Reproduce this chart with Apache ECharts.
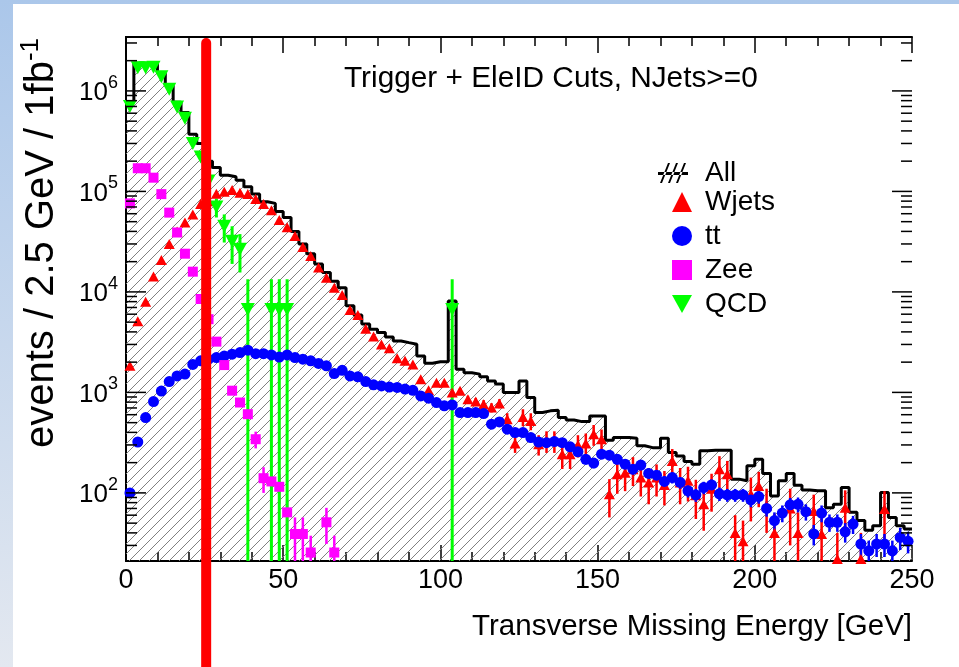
<!DOCTYPE html>
<html><head><meta charset="utf-8">
<script src="https://cdn.jsdelivr.net/npm/echarts@6/dist/echarts.min.js"></script>
<style>html,body{margin:0;padding:0;background:#fff}#c{width:959px;height:667px}</style>
</head><body><div id="c"></div>
<script>
// ---------------- data ----------------
const binWidth = 2.5;              // GeV per bin, 100 bins from 0 to 250
const xMin = 0, xMax = 250, xStep = 50;
const yMin = 21, yMax = 3.44e6;
const yDecadeLabels = [2, 3, 4, 5, 6];
const cutValue = 25.5;
const legendNames = ['All', 'Wjets', 'tt', 'Zee', 'QCD'];
const titleText = 'Trigger + EleID Cuts, NJets>=0';
const xTitle = 'Transverse Missing Energy [GeV]';

const allEvents = [
 7.8e5, 1.88e6, 1.88e6, 1.88e6, 1.5e6, 1.13e6, 7.7e5, 6.1e5, 3.7e5, 3.0e5,
 2.0e5, 1.73e5, 1.45e5, 1.4e5, 1.29e5, 1.11e5, 9.4e4, 7.9e4, 7.6e4, 6.3e4,
 5.5e4, 4.0e4, 3.0e4, 2.4e4, 1.9e4, 1.56e4, 1.28e4, 1.1e4, 7300, 5900,
 4800, 4250, 3940, 3560, 3250, 3130, 3020, 2300, 1950, 2020,
 2020, 8100, 1700, 1570, 1520, 1430, 1300, 1210, 995, 995,
 1300, 888, 630, 655, 665, 561, 532, 512, 512, 583,
 583, 334, 355, 355, 350, 294, 282, 282, 350, 252,
 233, 205, 193, 262, 266, 266, 266, 137, 132, 186,
 216, 156, 93, 132, 156, 119, 107, 105, 105, 71,
 77, 113, 64, 53, 42.6, 47, 101, 57, 47, 43.6];

const wjets = [
 1840, 5100, 8000, 14200, 20800, 30000, 40000, 49000, 59000, 75000,
 80000, 95000, 99000, 103000, 97000, 94000, 84000, 75000, 65000, 52000,
 44000, 36000, 28000, 22800, 17500, 13800, 11000, 9300, 6600, 5900,
 4300, 3600, 3000, 2750, 2190, 2060, 1900, 1350, 1050, 1250,
 1250, 995, 1040, 855, 810, 763, 706, 775, 541, 310,
 570, 520, 305, 330, 330, 243, 243, 300, 310, 384,
 342, 97, 153, 159, 172, 142, 127, 142, 120, 208,
 127, 132, 95, 77, 110, 172, 153, 40, 33, 97,
 117, 75, 40, null, 70, 40, null, 66, 39, null,
 22, 71, null, 22, null, null, 69, null, null, null];
const wjetsErr = [
 null, null, null, null, null, null, null, null, null, null,
 null, null, null, null, null, null, null, null, null, null,
 null, null, null, null, null, null, null, null, null, null,
 null, null, null, null, null, null, null, null, null, null,
 null, 60, 60, 70, 70, 75, 75, 80, 80, 60,
 110, 100, 70, 80, 80, 70, 70, 75, 80, 90,
 85, 40, 55, 55, 55, 50, 50, 50, 45, 65,
 50, 50, 40, 35, 45, 60, 55, 20, 20, 45,
 45, 35, 22, null, 40, 24, null, 30, 22, null,
 18, 35, null, 18, null, null, 35, null, null, null];

const ttbar = [
 100, 321, 561, 810, 1030, 1280, 1460, 1520, 1900, 2060,
 2140, 2220, 2300, 2400, 2490, 2630, 2430, 2430, 2360, 2250,
 2360, 2220, 2140, 2060, 1940, 1840, 1540, 1660, 1460, 1430,
 1280, 1190, 1160, 1130, 1120, 1080, 1050, 922, 875, 793,
 735, 751, 630, 630, 630, 615, 483, 508, 430, 398,
 398, 355, 321, 316, 324, 316, 287, 256, 216, 198,
 243, 237, 216, 193, 172, 189, 156, 150, 130, 142,
 127, 105, 95.5, 113, 120, 98, 95.5, 95.5, 95.5, 85,
 92, 70, 53, 63, 76, 77, 65, 39, 63, 51,
 51, 41, 49, 31, 26.5, 31, 31, 26.5, 36, 33];
const ttbarErr = [
 null, null, null, null, null, null, null, null, null, null,
 null, null, null, null, null, null, null, null, null, null,
 null, null, null, null, null, null, null, null, null, null,
 null, null, null, null, null, null, null, null, null, null,
 null, null, null, null, null, null, null, null, null, null,
 null, null, null, null, null, 30, 28, 26, 24, 22,
 26, 25, 23, 22, 20, 21, 19, 18, 17, 18,
 17, 15, 14, 16, 16, 15, 14, 14, 14, 13,
 14, 12, 11, 12, 13, 13, 12, 9, 12, 10,
 10, 9, 10, 8, 7, 8, 8, 7, 9, 8];

const zee = [
 76000, 170000, 170000, 137000, 94000, 61500, 39000, 24000, 15900, 8500,
 5350, 3200, 1870, 1040, 793, 607, 342, 140, 130, 115,
 64, 39, 39, 25.5, null, 51, 25.5, null, null, null];
const zeeErr = [
 null, null, null, null, null, null, null, null, null, null,
 null, null, null, null, null, null, 65, 40, 38, 38,
 22, 18, 18, 12, null, 20, 12, null, null, null];

const qcd = [
 7.0e5, 1.7e6, 1.7e6, 1.72e6, 1.38e6, 1.04e6, 6.9e5, 5.35e5, 3.0e5, 2.2e5,
 1.27e5, 7.0e4, 4.5e4, 3.2e4, 2.66e4, 6700, null, null, 6700, 6700,
 6700, null, null, null, null, null, null, null, null, null,
 null, null, null, null, null, null, null, null, null, null,
 null, 6700];
const qcdErr = [
 null, null, null, null, null, null, null, null, null, null,
 null, 15000, 14000, 13000, 11000, 6700, null, null, 6700, 6700,
 6700, null, null, null, null, null, null, null, null, null,
 null, null, null, null, null, null, null, null, null, null,
 null, 6700];

// ---------------- helpers ----------------
const FONT = '"Liberation Sans", Arial, Helvetica, sans-serif';
const center = i => (i + 0.5) * binWidth;
function points(vals) {
  const out = [];
  vals.forEach((v, i) => { if (v != null) out.push([center(i), v]); });
  return out;
}
function errorRows(vals, errs) {
  const out = [];
  vals.forEach((v, i) => {
    if (v != null && errs[i] != null) out.push([center(i), Math.max(v - errs[i], yMin), Math.min(v + errs[i], yMax)]);
  });
  return out;
}
function stepRows(vals) {
  const out = vals.map((v, i) => [i * binWidth, v]);
  out.push([vals.length * binWidth, vals[vals.length - 1]]);
  return out;
}
function errorSeries(name, rows, color, width) {
  return {
    type: 'custom', name: name, data: rows, z: 3, silent: true,
    encode: { x: 0, y: [1, 2] },
    renderItem(params, api) {
      const x = api.value(0);
      const p1 = api.coord([x, api.value(1)]);
      const p2 = api.coord([x, api.value(2)]);
      return { type: 'line', shape: { x1: p1[0], y1: p1[1], x2: p2[0], y2: p2[1] },
               style: { stroke: color, lineWidth: width } };
    }
  };
}

// hatch pattern for the "All" histogram
const hatch = document.createElement('canvas');
hatch.width = 10; hatch.height = 10;
const hctx = hatch.getContext('2d');
hctx.strokeStyle = '#808080'; hctx.lineWidth = 1;
hctx.beginPath();
hctx.moveTo(-1, 11); hctx.lineTo(11, -1);
hctx.moveTo(9, 11); hctx.lineTo(11, 9);
hctx.moveTo(-1, 1); hctx.lineTo(1, -1);
hctx.stroke();

// y ticks (log decades with 2..9 minor ticks)
const yTickRows = [];
for (let e = 1; e <= 6; e++) for (let m = 1; m <= 9; m++) {
  const v = m * Math.pow(10, e);
  if (v >= yMin && v <= yMax) yTickRows.push([0, v, m === 1 ? 1 : 0]);
}
const yLabelRows = yDecadeLabels.map(e => [0, Math.pow(10, e), e]);

const ALL_ICON = 'path://M0,9L30,9L30,12L0,12Z M2,20L4,20L12,0L10,0Z M10,20L12,20L20,0L18,0Z M18,20L20,20L28,0L26,0Z';

const chart = echarts.init(document.getElementById('c'), null, { renderer: 'canvas' });
chart.setOption({
  animation: false,
  grid: { left: 126, right: 47, top: 37, bottom: 106 },
  xAxis: [
    { type: 'value', min: xMin, max: xMax, interval: xStep, position: 'bottom',
      axisLine: { lineStyle: { color: '#000', width: 2 } },
      axisTick: { inside: true, length: 16, lineStyle: { color: '#000', width: 1.5 } },
      minorTick: { show: true, splitNumber: 5, length: 9, lineStyle: { color: '#000', width: 1.5 } },
      axisLabel: { fontSize: 27, color: '#000', fontFamily: FONT, margin: 6 },
      splitLine: { show: false } },
    { type: 'value', min: xMin, max: xMax, interval: xStep, position: 'top',
      axisLine: { lineStyle: { color: '#000', width: 2 } },
      axisTick: { inside: true, length: 16, lineStyle: { color: '#000', width: 1.5 } },
      minorTick: { show: true, splitNumber: 5, length: 9, lineStyle: { color: '#000', width: 1.5 } },
      axisLabel: { show: false }, splitLine: { show: false } }
  ],
  yAxis: [
    { type: 'log', logBase: 10, min: yMin, max: yMax, position: 'left',
      axisLine: { show: true, lineStyle: { color: '#000', width: 2 } },
      axisTick: { show: false }, axisLabel: { show: false }, splitLine: { show: false } },
    { type: 'log', logBase: 10, min: yMin, max: yMax, position: 'right',
      axisLine: { show: true, lineStyle: { color: '#000', width: 2 } },
      axisTick: { show: false }, axisLabel: { show: false }, splitLine: { show: false } }
  ],
  legend: [
    { data: [{ name: 'All', icon: ALL_ICON }], orient: 'vertical', left: 658, top: 159, padding: 0,
      itemWidth: 30, itemHeight: 20, selectedMode: false,
      textStyle: { fontSize: 28, color: '#000', fontFamily: FONT, lineHeight: 28, padding: [0, 0, 0, 12] } },
    { data: [{ name: 'Wjets', icon: 'triangle' }, { name: 'tt', icon: 'circle' },
             { name: 'Zee', icon: 'rect' }, { name: 'QCD', icon: 'path://M0,0L10,0L5,9Z' }],
      orient: 'vertical', left: 672, top: 188, padding: 0, itemWidth: 20, itemHeight: 20, itemGap: 6, selectedMode: false,
      textStyle: { fontSize: 28, color: '#000', fontFamily: FONT, lineHeight: 28, padding: [0, 0, 0, 8] } }
  ],
  graphic: [
    { type: 'rect', z: -10, silent: true, shape: { x: 0, y: 0, width: 959, height: 667 },
      style: { fill: new echarts.graphic.LinearGradient(0, 0, 0, 1, [
        { offset: 0, color: '#abc7ea' }, { offset: 1, color: '#e3e8f0' }]) } },
    { type: 'rect', z: -9, silent: true, shape: { x: 13, y: 4, width: 946, height: 663 }, style: { fill: '#ffffff' } },
    { type: 'text', x: 344, y: 79, style: { text: titleText, fill: '#000', font: '29.8px ' + FONT, verticalAlign: 'middle' } },
    { type: 'text', x: 912, y: 627, style: { text: xTitle, fill: '#000', font: '29.5px ' + FONT, align: 'right', verticalAlign: 'middle' } },
    { type: 'text', x: 42, y: 38, rotation: Math.PI / 2,
      style: { text: '{a|events / 2.5 GeV / 1fb}{b|-1}', align: 'right', verticalAlign: 'middle', fill: '#000',
        rich: { a: { font: '40px ' + FONT, fontSize: 40, lineHeight: 48, fill: '#000' },
                b: { font: '26px ' + FONT, fontSize: 26, lineHeight: 26, verticalAlign: 'top', fill: '#000' } } } }
  ],
  series: [
    { type: 'line', name: 'All', data: stepRows(allEvents), step: 'end', symbol: 'none', z: 2,
      itemStyle: { color: '#000' }, lineStyle: { color: '#000', width: 3 },
      areaStyle: { origin: 'start', color: { image: hatch, repeat: 'repeat' }, opacity: 1 } },
    errorSeries('WjetsErr', errorRows(wjets, wjetsErr), '#ff0000', 2.5),
    { type: 'scatter', name: 'Wjets', data: points(wjets), symbol: 'triangle', symbolSize: [11, 10], z: 4,
      itemStyle: { color: '#ff0000', opacity: 1 } },
    errorSeries('ttErr', errorRows(ttbar, ttbarErr), '#0000ff', 2.5),
    { type: 'scatter', name: 'tt', data: points(ttbar), symbol: 'circle', symbolSize: 11, z: 4,
      itemStyle: { color: '#0000ff', opacity: 1 } },
    errorSeries('ZeeErr', errorRows(zee, zeeErr), '#ff00ff', 2.5),
    { type: 'scatter', name: 'Zee', data: points(zee), symbol: 'rect', symbolSize: 10, z: 4,
      itemStyle: { color: '#ff00ff', opacity: 1 } },
    errorSeries('QCDErr', errorRows(qcd, qcdErr), '#00ff00', 3),
    { type: 'scatter', name: 'QCD', data: points(qcd), symbol: 'triangle', symbolRotate: 180, symbolSize: [14, 13], z: 4,
      itemStyle: { color: '#00ff00', opacity: 1 } },
    { type: 'custom', name: 'yTicks', data: yTickRows, z: 5, silent: true, encode: { x: 0, y: 1 },
      renderItem(params, api) {
        const v = api.value(1), major = api.value(2) === 1, len = major ? 20 : 11;
        const pl = api.coord([xMin, v]), pr = api.coord([xMax, v]);
        return { type: 'group', children: [
          { type: 'line', shape: { x1: pl[0], y1: pl[1], x2: pl[0] + len, y2: pl[1] }, style: { stroke: '#000', lineWidth: 1.5 } },
          { type: 'line', shape: { x1: pr[0] - len, y1: pr[1], x2: pr[0], y2: pr[1] }, style: { stroke: '#000', lineWidth: 1.5 } }
        ] };
      } },
    { type: 'custom', name: 'yLabels', data: yLabelRows, z: 5, silent: true, encode: { x: 0, y: 1 },
      renderItem(params, api) {
        const p = api.coord([xMin, api.value(1)]);
        return { type: 'text', x: p[0] - 8, y: p[1] + 2,
          style: { text: '{b|10}{s|' + api.value(2) + '}', align: 'right', verticalAlign: 'middle', fill: '#000',
            rich: { b: { font: '26px ' + FONT, fontSize: 26, lineHeight: 38, fill: '#000' },
                    s: { font: '18px ' + FONT, fontSize: 18, lineHeight: 18, verticalAlign: 'top', fill: '#000' } } } };
      } },
    { type: 'custom', name: 'cut', data: [[cutValue, yMax]], z: 10, silent: true, encode: { x: 0, y: 1 },
      renderItem(params, api) {
        const p = api.coord([api.value(0), api.value(1)]);
        return { type: 'line', shape: { x1: p[0], y1: p[1] + 6, x2: p[0], y2: api.getHeight() + 20 },
                 style: { stroke: '#ff0000', lineWidth: 10, lineCap: 'round' } };
      } }
  ]
});
</script>
</body></html>
